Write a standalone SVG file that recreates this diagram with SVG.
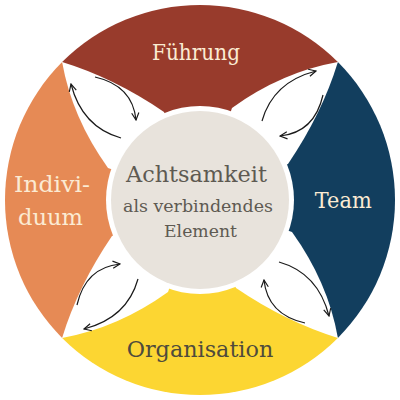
<svg xmlns="http://www.w3.org/2000/svg" xmlns:xlink="http://www.w3.org/1999/xlink" width="400" height="400" viewBox="0 0 400 400">
<style>
.lbl{font-family:"DejaVu Serif","Liberation Serif",serif;font-size:22px;fill:#FBEBD3;text-anchor:middle}
.ctr{font-family:"DejaVu Serif","Liberation Serif",serif;fill:#5E5A52;text-anchor:middle}
.arr{fill:none;stroke:#1a1a1a;stroke-width:1.2;marker-end:url(#ah)}
</style>
<defs>
<marker id="ah" viewBox="0 0 10 10" refX="9" refY="5" markerWidth="9" markerHeight="9" markerUnits="userSpaceOnUse" orient="auto">
<path d="M1,1 L9,5 L1,9" fill="none" stroke="#1a1a1a" stroke-width="1.3"/>
</marker>
<path id="petal" d="M62.11,62.11 Q114,78 164,112 L200,200 L108,168 Q72,118 62.11,62.11 Z" fill="#ffffff"/>
</defs>
<rect width="400" height="400" fill="#ffffff"/>
<g id="fuehrung">
<path d="M200,200 L62.11,62.11 A195,195 0 0 1 337.89,62.11 Z" fill="#983B2C"/>
</g>
<g id="team">
<path d="M200,200 L337.89,62.11 A195,195 0 0 1 337.89,337.89 Z" fill="#123E5E"/>
</g>
<g id="organisation">
<path d="M200,200 L337.89,337.89 A195,195 0 0 1 62.11,337.89 Z" fill="#FCD632"/>
</g>
<g id="individuum">
<path d="M200,200 L62.11,337.89 A195,195 0 0 1 62.11,62.11 Z" fill="#E68A55"/>
</g>
<g id="petals">
<use xlink:href="#petal"/>
<use xlink:href="#petal" transform="rotate(90 200 200)"/>
<use xlink:href="#petal" transform="rotate(180 200 200)"/>
<use xlink:href="#petal" transform="rotate(270 200 200)"/>
</g>
<g id="center">
<circle cx="200" cy="200" r="94" fill="#ffffff"/>
<circle cx="200" cy="200" r="89" fill="#E8E3DC"/>
<text class="ctr" x="196.5" y="181.7" font-size="22.5" textLength="141" lengthAdjust="spacingAndGlyphs">Achtsamkeit</text>
<text class="ctr" x="198" y="211.7" font-size="17.5" textLength="150" lengthAdjust="spacingAndGlyphs">als verbindendes</text>
<text class="ctr" x="200.5" y="236.7" font-size="17.5" textLength="73" lengthAdjust="spacingAndGlyphs">Element</text>
</g>
<g id="labels">
<text class="lbl" x="196" y="59.5" textLength="88" lengthAdjust="spacingAndGlyphs">Führung</text>
<text class="lbl" x="343.3" y="208.3" textLength="57" lengthAdjust="spacingAndGlyphs">Team</text>
<text class="lbl" x="52" y="191.7" textLength="76" lengthAdjust="spacingAndGlyphs">Indivi-</text>
<text class="lbl" x="50.5" y="225" textLength="65" lengthAdjust="spacingAndGlyphs">duum</text>
<text class="lbl" x="200" y="356.7" textLength="146.6" lengthAdjust="spacingAndGlyphs" style="fill:#4F4B3C">Organisation</text>
</g>
<g id="connectors">
<path class="arr" d="M121,138 Q82,127 71,84"/>
<path class="arr" d="M95,77 Q132.5,85.5 136,120"/>
<path class="arr" d="M121,138 Q82,127 71,84" transform="rotate(90 200 200)"/>
<path class="arr" d="M95,77 Q132.5,85.5 136,120" transform="rotate(90 200 200)"/>
<path class="arr" d="M121,138 Q82,127 71,84" transform="rotate(180 200 200)"/>
<path class="arr" d="M95,77 Q132.5,85.5 136,120" transform="rotate(180 200 200)"/>
<path class="arr" d="M121,138 Q82,127 71,84" transform="rotate(270 200 200)"/>
<path class="arr" d="M95,77 Q132.5,85.5 136,120" transform="rotate(270 200 200)"/>
</g>
</svg>
